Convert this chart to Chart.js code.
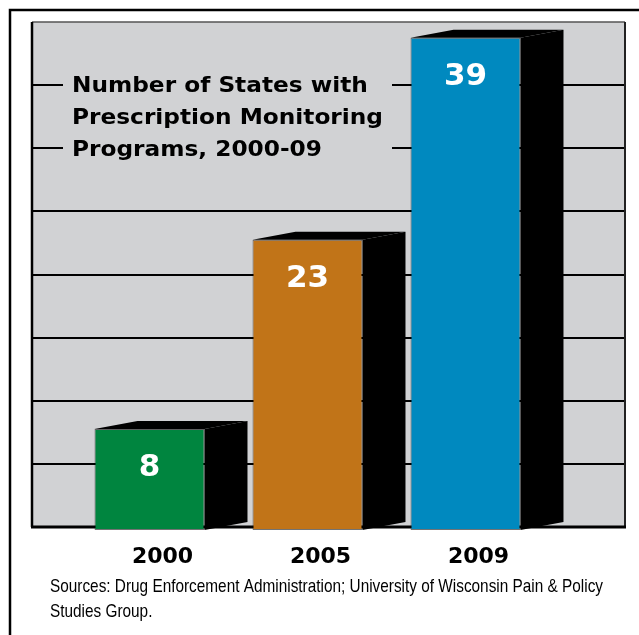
<!DOCTYPE html>
<html>
<head>
<meta charset="utf-8">
<script src="https://cdn.jsdelivr.net/npm/chart.js@4"></script>
<style>
  body { margin: 0; background: #fff; }
</style>
</head>
<body>
<canvas id="myChart" width="639" height="635"></canvas>
<script>
// chart values
const years = ['2000', '2005', '2009'];
const states = [8, 23, 39];
const yMax = 40;
const yStep = 5;
const titleLines = ['Number of States with', 'Prescription Monitoring', 'Programs, 2000-09'];
const sourceLines = ['Sources: Drug Enforcement Administration; University of Wisconsin Pain & Policy', 'Studies Group.'];

// look
const barColors = ['#00853f', '#c17418', '#0089bf'];
const gray = '#d1d2d4';
const depthX = 43, depthY = -8;
const shift = 3; // grid sits a bit above the bar bases (perspective)

function hline(ctx, x1, x2, y) {
    ctx.beginPath();
    ctx.moveTo(x1, y);
    ctx.lineTo(x2, y);
    ctx.stroke();
}

const backdrop = {
    id: 'backdrop',
    beforeDraw(chart) {
        const ctx = chart.ctx;
        const ys = chart.scales.y;
        const left = 32, right = 625;
        const top = ys.getPixelForValue(yMax) - shift;
        const bottom = ys.getPixelForValue(0) - shift;
        ctx.save();
        ctx.fillStyle = '#fff';
        ctx.fillRect(0, 0, chart.width, chart.height);

        // outer frame
        ctx.strokeStyle = '#000';
        ctx.lineWidth = 2.5;
        ctx.beginPath();
        ctx.moveTo(10, chart.height);
        ctx.lineTo(10, 10);
        ctx.lineTo(chart.width, 10);
        ctx.stroke();

        // plot box
        ctx.fillStyle = gray;
        ctx.fillRect(left, top, right - left, bottom - top);

        ctx.strokeStyle = '#000';
        ctx.lineWidth = 2;
        for (let v = yStep; v < yMax; v += yStep) {
            hline(ctx, left, right, Math.round(ys.getPixelForValue(v) - shift));
        }
        ctx.strokeStyle = '#555';
        ctx.lineWidth = 1.5;
        hline(ctx, left, right, top);
        ctx.strokeStyle = '#000';
        ctx.lineWidth = 2.5;
        ctx.beginPath();
        ctx.moveTo(left, top);
        ctx.lineTo(left, bottom);
        ctx.stroke();
        ctx.lineWidth = 2;
        ctx.strokeStyle = '#222';
        ctx.beginPath();
        ctx.moveTo(right, top);
        ctx.lineTo(right, bottom);
        ctx.stroke();
        ctx.strokeStyle = '#000';
        ctx.lineWidth = 3;
        hline(ctx, left - 1, right + 1, bottom);

        // title box
        ctx.fillStyle = gray;
        ctx.fillRect(63, 70, 329, 95);
        ctx.fillStyle = '#000';
        ctx.font = 'bold 21px "DejaVu Sans"';
        ctx.textBaseline = 'alphabetic';
        const k = 311 / ctx.measureText(titleLines[1]).width;
        titleLines.forEach((t, i) => {
            ctx.save();
            ctx.translate(72, 92 + i * 32);
            ctx.scale(k, 1);
            ctx.fillText(t, 0, 0);
            ctx.restore();
        });
        ctx.restore();
    },
    afterDatasetsDraw(chart) {
        const ctx = chart.ctx;
        const meta = chart.getDatasetMeta(0);
        ctx.save();
        meta.data.forEach((bar, i) => {
            const p = bar.getProps(['x', 'y', 'base', 'width'], true);
            const l = p.x - p.width / 2, r = p.x + p.width / 2;
            ctx.fillStyle = '#000';
            // top
            ctx.beginPath();
            ctx.moveTo(l, p.y);
            ctx.lineTo(l + depthX, p.y + depthY);
            ctx.lineTo(r + depthX, p.y + depthY);
            ctx.lineTo(r, p.y);
            ctx.closePath();
            ctx.fill();
            // side
            ctx.beginPath();
            ctx.moveTo(r, p.y);
            ctx.lineTo(r + depthX, p.y + depthY);
            ctx.lineTo(r + depthX, p.base + depthY);
            ctx.lineTo(r, p.base);
            ctx.closePath();
            ctx.fill();
            // value
            ctx.fillStyle = '#fff';
            ctx.font = 'bold 31px "DejaVu Sans"';
            ctx.textAlign = 'center';
            ctx.textBaseline = 'alphabetic';
            ctx.fillText(String(states[i]), p.x, p.y + 47);
        });
        ctx.restore();
    },
    afterDraw(chart) {
        const ctx = chart.ctx;
        ctx.save();
        ctx.fillStyle = '#000';
        ctx.font = '19px "Liberation Sans Narrow", "Liberation Sans", sans-serif';
        ctx.textBaseline = 'alphabetic';
        const k = 553 / ctx.measureText(sourceLines[0]).width;
        sourceLines.forEach((t, i) => {
            ctx.save();
            ctx.translate(50, 592 + i * 25);
            ctx.scale(k, 1);
            ctx.fillText(t, 0, 0);
            ctx.restore();
        });
        ctx.restore();
    }
};

const myChart = new Chart(document.getElementById('myChart'), {
    type: 'bar',
    data: {
        labels: years,
        datasets: [{
            data: states,
            backgroundColor: barColors,
            borderColor: 'rgba(0,0,0,0.55)',
            borderWidth: 1,
            borderSkipped: false,
            categoryPercentage: 0.696,
            barPercentage: 1
        }]
    },
    options: {
        responsive: false,
        animation: false,
        layout: { padding: { left: 70.5, right: 94.5, top: 25, bottom: 0 } },
        plugins: { legend: { display: false }, tooltip: { enabled: false } },
        scales: {
            y: {
                display: false,
                min: 0,
                max: yMax,
                ticks: { stepSize: yStep }
            },
            x: {
                grid: { display: false, drawTicks: false },
                border: { display: false },
                ticks: {
                    color: '#000',
                    font: { family: 'DejaVu Sans', size: 22, weight: 'bold' },
                    padding: 14,
                    labelOffset: 13
                },
                afterFit(scale) { scale.height = 105; }
            }
        }
    },
    plugins: [backdrop]
});
</script>
</body>
</html>
